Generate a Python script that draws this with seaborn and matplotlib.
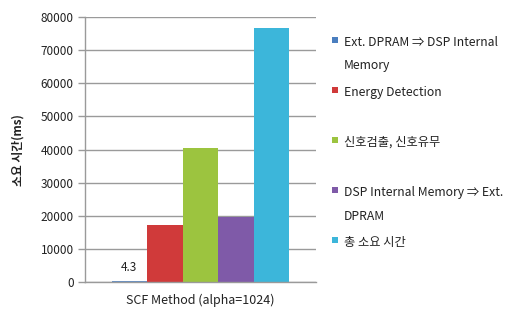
import pandas as pd
import matplotlib.pyplot as plt
import seaborn as sns
from matplotlib.patches import Rectangle

# Data
category = "SCF Method (alpha=1024)"
series = [
    "Ext. DPRAM ⇒ DSP Internal\nMemory",
    "Energy Detection",
    "신호검출, 신호유무",
    "DSP Internal Memory ⇒ Ext.\nDPRAM",
    "총 소요 시간",
]
values = [4.3, 17300, 40400, 19600, 76700]
colors = ["#4a7ebf", "#d03a3a", "#9cc43f", "#7f5aa8", "#3cb6da"]
yticks = [0, 10000, 20000, 30000, 40000, 50000, 60000, 70000, 80000]

df = pd.DataFrame({"cat": [category] * len(series), "series": series, "value": values})

sns.set_style("white")
plt.rcParams["font.family"] = ["Noto Sans CJK KR", "DejaVu Sans"]

fig = plt.figure(figsize=(5.18, 3.17), dpi=100)
ax = fig.add_axes([0.164, 0.110, 0.446, 0.836])

sns.barplot(data=df, x="cat", y="value", hue="series", palette=colors,
            saturation=1, width=0.77, legend=False, ax=ax, edgecolor="none")

# the near-zero bar shows as a thin line in the original
ax.patches[0].set_edgecolor(colors[0])
ax.patches[0].set_linewidth(1.2)

ax.set_ylim(0, 80000)
ax.set_xlim(-0.5, 0.5)
ax.set_yticks(yticks)
ax.set_yticklabels([str(t) for t in yticks], fontsize=8.5, color="#222222")
ax.yaxis.grid(True, color="#9a9a9a", linewidth=1)
ax.set_axisbelow(True)
ax.tick_params(axis="y", length=5, color="#9a9a9a", width=1, pad=3, left=True)
ax.tick_params(axis="x", length=0, labelbottom=False)
for side in ["top", "right"]:
    ax.spines[side].set_visible(False)
for side in ["left", "bottom"]:
    ax.spines[side].set_color("#9a9a9a")
    ax.spines[side].set_linewidth(1)

ax.set_xlabel(category, fontsize=9, color="#222222", labelpad=8)
ax.set_ylabel("소요 시간(ms)", fontsize=8.5, fontweight="bold", color="#222222", labelpad=12)

# value label on the tiny first bar
first_bar = ax.patches[0]
ax.text(first_bar.get_x() + first_bar.get_width() / 2, 2500, str(values[0]),
        ha="center", va="bottom", fontsize=8.5, color="#222222")

# legend placed like the original
top_px = [37, 87, 137, 187, 237]
for label, color, ty in zip(series, colors, top_px):
    fig.patches.append(Rectangle((332 / 518, 1 - (ty + 6) / 317), 6 / 518, 6 / 317,
                                 transform=fig.transFigure, facecolor=color,
                                 edgecolor="none"))
    fig.text(344 / 518, 1 - (ty - 1) / 317, label, ha="left", va="top",
             fontsize=8.8, color="#222222", linespacing=2.05)

fig.savefig("out.png", dpi=100)
